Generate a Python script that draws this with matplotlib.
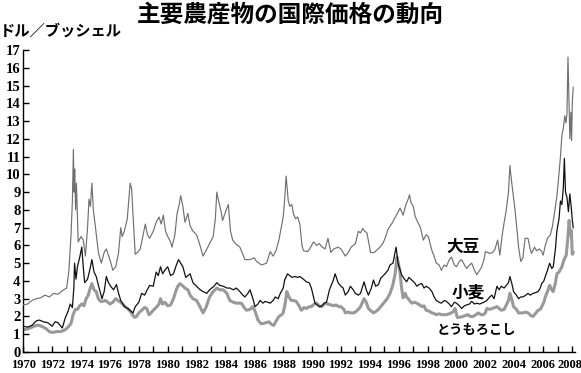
import matplotlib
matplotlib.use("Agg")
import matplotlib.pyplot as plt
from matplotlib.transforms import ScaledTranslation

plt.rcParams['font.family'] = ['Noto Sans CJK JP', 'DejaVu Sans']

title = "主要農産物の国際価格の動向"
ylabel = "ドル／ブッシェル"
series_names = ["大豆", "小麦", "とうもろこし"]

soy_t = [1970.0, 1970.3, 1970.6, 1970.9, 1971.2, 1971.5, 1971.8, 1972.1, 1972.4, 1972.7,
         1973.0, 1973.15, 1973.3, 1973.4, 1973.47, 1973.52, 1973.56, 1973.62, 1973.68, 1973.8,
         1974.0, 1974.15, 1974.3, 1974.45, 1974.55, 1974.65, 1974.75, 1974.85, 1975.0, 1975.2,
         1975.4, 1975.6, 1975.75, 1976.0, 1976.2, 1976.4, 1976.6, 1976.75, 1976.85, 1977.0,
         1977.2, 1977.4, 1977.5, 1977.65, 1977.75, 1977.9, 1978.1, 1978.3, 1978.45, 1978.6,
         1978.75, 1979.0, 1979.2, 1979.4, 1979.55, 1979.7, 1979.85, 1980.0, 1980.2, 1980.3,
         1980.5, 1980.65, 1980.8, 1980.9, 1981.05, 1981.2, 1981.4, 1981.55, 1981.75, 1982.0,
         1982.2, 1982.45, 1982.65, 1982.9, 1983.15, 1983.3, 1983.4, 1983.55, 1983.7, 1983.8,
         1984.05, 1984.2, 1984.35, 1984.5, 1984.7, 1985.0, 1985.2, 1985.35, 1985.7, 1986.0,
         1986.15, 1986.5, 1986.85, 1987.1, 1987.3, 1987.5, 1987.7, 1988.0, 1988.1, 1988.2,
         1988.35, 1988.45, 1988.6, 1988.7, 1988.85, 1989.0, 1989.15, 1989.3, 1989.4, 1989.7,
         1989.9, 1990.1, 1990.3, 1990.5, 1990.7, 1990.9, 1991.1, 1991.3, 1991.5, 1991.8,
         1992.0, 1992.3, 1992.5, 1992.7, 1993.0, 1993.2, 1993.35, 1993.5, 1993.65, 1993.8,
         1994.05, 1994.3, 1994.5, 1994.7, 1994.9, 1995.1, 1995.25, 1995.5, 1995.7, 1995.9,
         1996.1, 1996.3, 1996.5, 1996.65, 1996.75, 1996.85, 1997.0, 1997.15, 1997.35, 1997.5,
         1997.7, 1997.9, 1998.05, 1998.3, 1998.45, 1998.6, 1998.8, 1998.95, 1999.15, 1999.3,
         1999.5, 1999.65, 1999.85, 2000.0, 2000.2, 2000.35, 2000.55, 2000.7, 2000.9, 2001.05,
         2001.25, 2001.4, 2001.6, 2001.75, 2001.9, 2002.0, 2002.3, 2002.5, 2002.65, 2002.85,
         2003.0, 2003.15, 2003.3, 2003.45, 2003.6, 2003.7, 2003.8, 2003.9, 2004.05, 2004.2,
         2004.3, 2004.45, 2004.6, 2004.75, 2004.95, 2005.1, 2005.2, 2005.4, 2005.55, 2005.75,
         2005.9, 2006.0, 2006.15, 2006.3, 2006.5, 2006.65, 2006.8, 2006.95, 2007.05, 2007.2,
         2007.3, 2007.4, 2007.5, 2007.58, 2007.65, 2007.72, 2007.78, 2007.85, 2007.92, 2007.97,
         2008.02, 2008.08]
soy_v = [2.65, 2.7, 2.9, 3.0, 3.05, 3.2, 3.1, 3.3, 3.25, 3.45,
         3.6, 4.5, 6.5, 8.5, 11.4, 9.0, 10.3, 8.0, 9.5, 6.2,
         6.5, 6.3, 5.4, 7.0, 8.6, 8.2, 9.5, 8.0, 7.0, 5.6,
         5.0, 5.6, 5.8, 5.2, 4.6, 4.8, 5.6, 7.0, 6.5, 6.8,
         7.5, 9.5, 9.2, 7.0, 5.5, 5.6, 5.8, 6.6, 7.2, 6.6,
         6.4, 6.8, 7.3, 7.6, 7.2, 7.7, 6.8, 6.5, 6.2, 5.9,
         6.6, 7.8, 8.3, 8.8, 8.2, 7.3, 7.8, 7.1, 6.8, 6.6,
         6.1, 5.4, 5.7, 6.1, 6.5, 7.5, 9.0, 8.4, 7.9, 7.4,
         8.0, 8.3, 6.8, 6.3, 6.1, 5.9, 5.5, 5.2, 5.2, 5.3,
         5.1, 4.9, 5.0, 5.65, 5.4, 5.7, 6.3, 7.6, 8.6, 9.9,
         8.5, 8.2, 8.3, 7.8, 7.5, 7.6, 7.2, 6.0, 5.7, 5.65,
         5.9, 6.2, 6.0, 6.1, 5.9, 5.8, 6.4, 5.6, 5.8, 5.9,
         5.8, 5.4, 5.6, 5.9, 6.1, 6.8, 6.7, 6.95, 6.8, 6.7,
         5.6, 5.6, 5.75, 5.9, 6.1, 6.5, 6.9, 7.2, 7.5, 7.8,
         8.1, 7.7, 8.3, 8.6, 8.85, 8.4, 8.2, 7.6, 7.25, 7.0,
         6.3, 6.6, 6.5, 5.7, 5.4, 5.0, 4.9, 4.6, 4.9, 4.8,
         5.2, 5.35, 4.9, 4.8, 5.1, 5.2, 4.9, 4.7, 4.9, 5.0,
         4.6, 4.35, 4.6, 4.8, 5.2, 5.65, 5.55, 5.6, 5.75, 6.3,
         5.45, 6.5, 7.3, 8.0, 9.0, 10.5, 9.7, 9.0, 8.0, 6.8,
         5.9, 5.1, 5.3, 6.4, 6.4, 5.8, 5.55, 5.9, 5.7, 5.8,
         5.65, 5.45, 6.0, 6.4, 6.6, 7.1, 7.9, 8.75, 9.6, 11.0,
         12.2, 12.6, 13.3, 12.9, 13.4, 16.6, 14.5, 12.0, 13.5, 11.9,
         14.0, 14.9]

wheat_t = [1970.0, 1970.3, 1970.6, 1970.9, 1971.1, 1971.4, 1971.7, 1972.0, 1972.2, 1972.4,
           1972.7, 1972.9, 1973.1, 1973.25, 1973.4, 1973.5, 1973.55, 1973.65, 1973.75, 1973.9,
           1974.05, 1974.15, 1974.25, 1974.45, 1974.6, 1974.75, 1974.9, 1975.05, 1975.25, 1975.45,
           1975.6, 1975.75, 1975.9, 1976.05, 1976.25, 1976.45, 1976.6, 1976.75, 1977.0, 1977.25,
           1977.45, 1977.6, 1977.75, 1978.0, 1978.2, 1978.4, 1978.55, 1978.75, 1979.0, 1979.2,
           1979.35, 1979.5, 1979.65, 1979.8, 1980.0, 1980.2, 1980.4, 1980.6, 1980.75, 1980.9,
           1981.05, 1981.25, 1981.4, 1981.55, 1981.75, 1982.0, 1982.25, 1982.45, 1982.7, 1982.9,
           1983.2, 1983.4, 1983.6, 1983.85, 1984.1, 1984.3, 1984.55, 1984.75, 1985.0, 1985.2,
           1985.35, 1985.55, 1985.7, 1985.9, 1986.05, 1986.25, 1986.4, 1986.6, 1986.75, 1987.1,
           1987.3, 1987.45, 1987.65, 1987.8, 1988.0, 1988.1, 1988.3, 1988.45, 1988.6, 1988.8,
           1989.0, 1989.15, 1989.4, 1989.6, 1989.8, 1989.95, 1990.1, 1990.2, 1990.5, 1990.7,
           1990.85, 1991.0, 1991.2, 1991.45, 1991.6, 1991.8, 1992.0, 1992.15, 1992.3, 1992.5,
           1992.65, 1992.85, 1993.0, 1993.2, 1993.35, 1993.6, 1993.75, 1993.9, 1994.1, 1994.25,
           1994.4, 1994.6, 1994.75, 1995.05, 1995.25, 1995.4, 1995.6, 1995.75, 1995.82, 1995.95,
           1996.1, 1996.2, 1996.4, 1996.55, 1996.7, 1996.9, 1997.1, 1997.25, 1997.4, 1997.6,
           1997.75, 1997.9, 1998.1, 1998.3, 1998.45, 1998.6, 1998.8, 1998.95, 1999.15, 1999.3,
           1999.5, 1999.65, 1999.85, 2000.0, 2000.2, 2000.35, 2000.55, 2000.7, 2000.9, 2001.05,
           2001.25, 2001.4, 2001.6, 2001.75, 2001.9, 2002.1, 2002.3, 2002.45, 2002.6, 2002.8,
           2002.95, 2003.1, 2003.3, 2003.45, 2003.6, 2003.7, 2003.85, 2003.95, 2004.15, 2004.3,
           2004.45, 2004.6, 2004.8, 2004.95, 2005.1, 2005.3, 2005.5, 2005.65, 2005.8, 2005.9,
           2006.05, 2006.15, 2006.3, 2006.45, 2006.6, 2006.7, 2006.85, 2006.95, 2007.1, 2007.2,
           2007.3, 2007.4, 2007.47, 2007.55, 2007.65, 2007.75, 2007.85, 2007.95, 2008.0, 2008.08]
wheat_v = [1.45, 1.4, 1.5, 1.75, 1.8, 1.7, 1.65, 1.45, 1.7, 1.65,
           1.35, 1.9, 2.3, 2.7, 2.5, 3.6, 5.0, 4.1, 4.8, 5.3,
           5.9, 4.8, 3.9, 4.1, 4.6, 5.2, 4.5, 4.25, 3.6, 3.0,
           3.4, 4.25, 3.9, 3.7, 3.5, 3.8, 3.3, 2.9, 2.55, 2.45,
           2.3, 2.2, 2.55, 2.8, 3.3, 3.2, 3.45, 3.75, 3.7, 4.5,
           4.3, 4.8, 4.4, 4.6, 4.8, 4.3, 4.4, 4.9, 5.2, 5.0,
           4.8, 4.2, 4.3, 4.4, 3.9, 3.7, 3.5, 3.4, 3.3, 3.5,
           3.7, 3.9, 3.75, 3.7, 3.6, 3.6, 3.5, 3.6, 3.4, 3.2,
           3.1, 3.3, 3.5, 3.0, 2.55, 2.7, 2.9, 2.75, 2.85, 2.75,
           2.9, 3.1, 3.0, 3.3, 3.6, 4.05, 4.4, 4.3, 4.2, 4.25,
           4.2, 4.25, 4.1, 3.95, 3.9, 3.6, 3.1, 2.75, 2.55, 2.6,
           2.75, 2.8, 3.5, 4.0, 4.4, 3.9, 3.7, 3.6, 3.2, 3.4,
           3.7, 3.5, 3.3, 3.2, 3.3, 3.95, 3.5, 3.2, 3.6, 4.05,
           3.7, 3.8, 4.15, 4.4, 4.6, 4.9, 5.0, 5.6, 5.9, 5.0,
           4.6, 4.35, 4.1, 3.95, 4.2, 4.05, 3.9, 3.7, 3.8, 3.85,
           3.6, 3.7, 3.6, 3.4, 3.1, 2.9, 2.8, 2.75, 2.9, 2.85,
           2.7, 2.55, 2.8, 2.75, 2.6, 2.45, 2.6, 2.65, 2.7, 2.85,
           2.7, 2.75, 2.7, 2.75, 2.8, 2.9, 3.1, 3.2, 3.0, 3.7,
           3.5, 3.7, 3.6, 3.75, 3.9, 4.25, 3.8, 3.4, 3.2, 3.0,
           3.1, 3.1, 3.2, 3.3, 3.2, 3.3, 3.35, 3.4, 3.6, 3.85,
           4.0, 4.25, 4.6, 5.0, 4.7, 4.8, 5.8, 6.8, 7.5, 8.5,
           8.3, 9.3, 10.9, 9.0, 8.7, 7.9, 8.9, 8.1, 7.6, 7.0]

corn_t = [1970.0, 1970.3, 1970.6, 1970.9, 1971.1, 1971.4, 1971.6, 1971.8, 1972.0, 1972.3,
          1972.6, 1972.9, 1973.1, 1973.3, 1973.45, 1973.6, 1973.75, 1973.9, 1974.05, 1974.2,
          1974.35, 1974.5, 1974.6, 1974.75, 1974.9, 1975.05, 1975.2, 1975.35, 1975.5, 1975.7,
          1975.85, 1976.0, 1976.2, 1976.4, 1976.55, 1976.75, 1977.0, 1977.2, 1977.4, 1977.55,
          1977.7, 1977.85, 1978.0, 1978.2, 1978.4, 1978.55, 1978.7, 1978.85, 1979.0, 1979.2,
          1979.4, 1979.5, 1979.65, 1979.8, 1980.0, 1980.2, 1980.4, 1980.55, 1980.7, 1980.85,
          1981.0, 1981.2, 1981.4, 1981.55, 1981.75, 1982.0, 1982.2, 1982.45, 1982.65, 1982.9,
          1983.15, 1983.4, 1983.6, 1983.85, 1984.1, 1984.3, 1984.55, 1984.75, 1985.1, 1985.3,
          1985.45, 1985.7, 1985.9, 1986.05, 1986.25, 1986.45, 1986.6, 1986.8, 1987.0, 1987.2,
          1987.35, 1987.55, 1987.7, 1987.9, 1988.0, 1988.15, 1988.25, 1988.4, 1988.55, 1988.7,
          1988.9, 1989.1, 1989.25, 1989.45, 1989.6, 1989.8, 1989.95, 1990.15, 1990.3, 1990.5,
          1990.65, 1990.9, 1991.1, 1991.3, 1991.5, 1991.65, 1991.85, 1992.0, 1992.2, 1992.3,
          1992.5, 1992.65, 1992.85, 1993.0, 1993.2, 1993.35, 1993.6, 1993.75, 1993.9, 1994.1,
          1994.25, 1994.45, 1994.6, 1994.75, 1995.05, 1995.2, 1995.4, 1995.6, 1995.75, 1995.88,
          1996.0, 1996.1, 1996.2, 1996.3, 1996.45, 1996.55, 1996.75, 1996.9, 1997.1, 1997.25,
          1997.45, 1997.6, 1997.75, 1997.9, 1998.1, 1998.3, 1998.5, 1998.6, 1998.8, 1998.95,
          1999.15, 1999.3, 1999.5, 1999.65, 1999.8, 1999.9, 2000.05, 2000.2, 2000.45, 2000.6,
          2000.8, 2000.95, 2001.15, 2001.35, 2001.5, 2001.7, 2001.85, 2002.0, 2002.1, 2002.3,
          2002.45, 2002.65, 2002.8, 2002.95, 2003.1, 2003.3, 2003.45, 2003.6, 2003.7, 2003.85,
          2003.95, 2004.15, 2004.3, 2004.45, 2004.6, 2004.8, 2004.95, 2005.15, 2005.3, 2005.5,
          2005.65, 2005.8, 2005.9, 2006.05, 2006.15, 2006.3, 2006.45, 2006.6, 2006.7, 2006.85,
          2006.95, 2007.1, 2007.3, 2007.45, 2007.6, 2007.72, 2007.8, 2007.88, 2007.95, 2008.02,
          2008.08]
corn_v = [1.25, 1.3, 1.4, 1.5, 1.5, 1.4, 1.3, 1.15, 1.1, 1.15,
          1.15, 1.25, 1.4, 1.6, 2.1, 2.4, 2.4, 2.6, 2.7, 2.6,
          3.0, 3.2, 3.5, 3.85, 3.5, 3.4, 3.0, 2.85, 2.85, 2.9,
          2.8, 2.7, 2.8, 3.0, 2.9, 2.8, 2.6, 2.45, 2.3, 2.1,
          1.95, 2.0, 2.2, 2.35, 2.5, 2.45, 2.1, 2.2, 2.35, 2.5,
          2.7, 3.0, 2.7, 2.8, 2.6, 2.65, 3.0, 3.4, 3.7, 3.85,
          3.75, 3.6, 3.5, 3.2, 3.0, 2.9, 2.6, 2.2, 2.5, 3.1,
          3.4, 3.6, 3.5, 3.5, 3.3, 2.9, 2.8, 2.75, 2.75, 2.5,
          2.35, 2.4, 2.55, 2.3, 1.8, 1.6, 1.6, 1.65, 1.7, 1.55,
          1.5, 1.8, 2.0, 2.1, 2.2, 2.8, 3.4, 3.1, 2.9, 2.9,
          2.85, 2.6, 2.35, 2.5, 2.45, 2.55, 2.55, 2.7, 2.75, 2.6,
          2.55, 2.75, 2.7, 2.65, 2.6, 2.65, 2.55, 2.55, 2.4, 2.2,
          2.25, 2.2, 2.2, 2.25, 2.4, 2.55, 3.0, 2.8, 2.45, 2.3,
          2.2, 2.3, 2.4, 2.55, 2.85, 3.0, 3.3, 3.8, 4.4, 5.35,
          4.9, 4.4, 3.6, 3.05, 3.3, 3.1, 2.9, 2.75, 2.8, 2.75,
          2.65, 2.55, 2.6, 2.35, 2.3, 2.2, 2.15, 2.1, 2.15, 2.1,
          2.1, 2.1, 2.15, 2.2, 2.3, 2.45, 1.95, 1.95, 2.0, 2.05,
          2.1, 2.0, 2.0, 2.1, 2.2, 2.1, 2.1, 2.2, 2.45, 2.4,
          2.45, 2.5, 2.55, 2.45, 2.35, 2.4, 2.65, 2.9, 3.3, 2.9,
          2.55, 2.4, 2.2, 2.2, 2.2, 2.25, 2.2, 2.05, 2.0, 2.2,
          2.35, 2.4, 2.55, 2.8, 3.1, 3.4, 3.75, 3.5, 3.4, 3.9,
          4.4, 4.5, 4.8, 5.2, 5.45, 6.5, 7.4, 6.6, 6.85, 5.5,
          5.6]

x_ticks = list(range(1970, 2009))
x_labels = [str(y) if y % 2 == 0 else "" for y in x_ticks]
y_ticks = list(range(0, 18))

fig = plt.figure(figsize=(5.81, 3.73), dpi=100)
ax = fig.add_axes([0.0401, 0.0563, 0.9494, 0.8097])

ax.plot(corn_t, corn_v, color="#999999", lw=2.2, solid_joinstyle="round", zorder=2)
ax.plot(wheat_t, wheat_v, color="#111111", lw=0.9, zorder=3)
ax.plot(soy_t, soy_v, color="#707070", lw=0.85, zorder=4)

ax.set_xlim(1970, 2008.2)
ax.set_ylim(0, 17)
for s in ("top", "right"):
    ax.spines[s].set_visible(False)
for s in ("left", "bottom"):
    ax.spines[s].set_linewidth(1.0)
    ax.spines[s].set_color("black")

ax.set_xticks(x_ticks)
ax.set_xticklabels(x_labels)
ax.set_yticks(y_ticks)
ax.set_yticklabels([str(v) for v in y_ticks])
ax.tick_params(direction="in", length=4, width=1, colors="black")
ax.tick_params(axis="x", pad=5)
ax.tick_params(axis="y", pad=2)
for lab in ax.get_xticklabels():
    lab.set_fontfamily("Liberation Serif")
    lab.set_fontsize(9)
    lab.set_fontweight("bold")
for lab in ax.get_yticklabels():
    lab.set_fontfamily("Liberation Serif")
    lab.set_fontsize(10.5)
    lab.set_fontweight("bold")
last = ax.get_xticklabels()[-1]
last.set_transform(last.get_transform() + ScaledTranslation(-2 / 100, 0, fig.dpi_scale_trans))

fig.text(0.5, 0.962, title, ha="center", va="center", fontsize=17, fontweight="bold")
fig.text(0.0, 0.918, ylabel, ha="left", va="center", fontsize=11, fontweight="bold")

ax.text(2000.48, 5.94, series_names[0], ha="center", va="center", fontsize=12, fontweight="bold")
ax.text(2000.83, 3.32, series_names[1], ha="center", va="center", fontsize=12, fontweight="bold")
ax.text(2001.38, 1.24, series_names[2], ha="center", va="center", fontsize=9.5, fontweight="bold")

fig.savefig("out.png", dpi=100)
